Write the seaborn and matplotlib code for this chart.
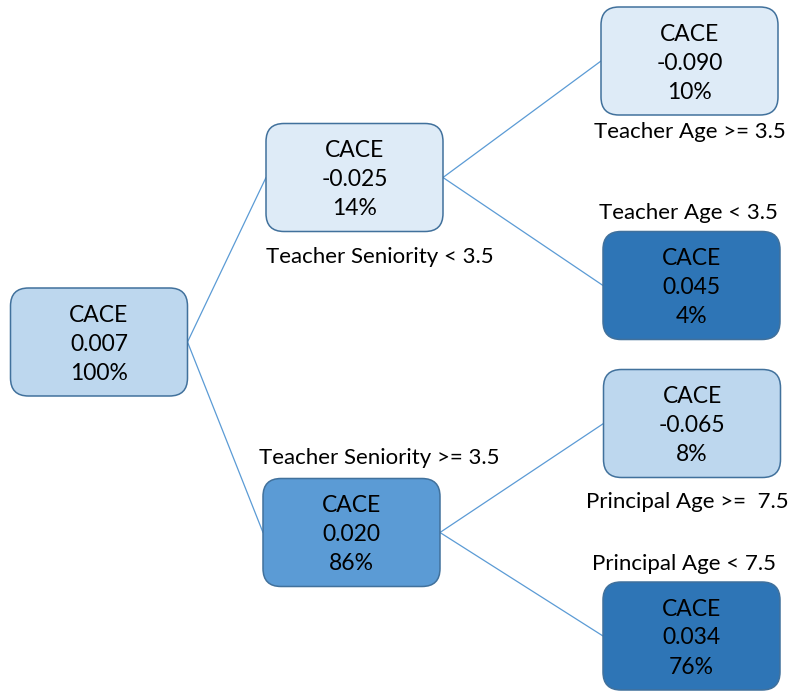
import matplotlib
matplotlib.use("Agg")
import matplotlib.pyplot as plt
from matplotlib.patches import FancyBboxPatch
import seaborn as sns

sns.set_style("white")
plt.rcParams['font.family'] = ['Lato', 'DejaVu Sans']

## Tree data
node_ids = ["root", "sen_lo", "sen_hi", "age_hi", "age_lo", "pa_hi", "pa_lo"]
parents = [None, "root", "root", "sen_lo", "sen_lo", "sen_hi", "sen_hi"]
cace = ["0.007", "-0.025", "0.020", "-0.090", "0.045", "-0.065", "0.034"]
share = ["100%", "14%", "86%", "10%", "4%", "8%", "76%"]
split_labels = [None, "Teacher Seniority < 3.5", "Teacher Seniority >= 3.5",
                "Teacher Age >= 3.5", "Teacher Age < 3.5",
                "Principal Age >=  7.5", "Principal Age < 7.5"]

## Layout (pixels, y down)
centers = {
    "root": (99, 342), "sen_lo": (354.5, 177.5), "sen_hi": (351.5, 532.5),
    "age_hi": (689.5, 61), "age_lo": (691.5, 285.5),
    "pa_hi": (692, 423.5), "pa_lo": (691.5, 636),
}
box_w, box_h = 177, 108
label_pos = {
    "sen_lo": (380, 257), "sen_hi": (379, 458),
    "age_hi": (690, 132), "age_lo": (688, 213),
    "pa_hi": (687, 502), "pa_lo": (684, 564),
}

fills = {"root": "#BDD7EE", "sen_lo": "#DEEBF7", "sen_hi": "#5B9BD5",
         "age_hi": "#DEEBF7", "age_lo": "#2E75B6", "pa_hi": "#BDD7EE",
         "pa_lo": "#2E75B6"}

fig = plt.figure(figsize=(7.9, 6.91), dpi=100)
ax = fig.add_axes([0, 0, 1, 1])
ax.set_xlim(0, 790)
ax.set_ylim(691, 0)
ax.axis("off")

## Edges
for nid, par in zip(node_ids, parents):
    if par is None:
        continue
    px, py = centers[par]
    cx, cy = centers[nid]
    ax.plot([px + box_w / 2, cx - box_w / 2], [py, cy], color="#5B9BD5", lw=0.9, zorder=1)

## Boxes
rad = 18
for nid, val, pct in zip(node_ids, cace, share):
    cx, cy = centers[nid]
    box = FancyBboxPatch((cx - box_w / 2 + rad, cy - box_h / 2 + rad),
                         box_w - 2 * rad, box_h - 2 * rad,
                         boxstyle="round,pad=%d" % rad,
                         facecolor=fills[nid], edgecolor="#41719C", lw=1.1, zorder=2)
    ax.add_patch(box)
    for k, line in enumerate(["CACE", val, pct]):
        ax.text(cx, cy + 2 + (k - 1) * 29, line, ha="center", va="center",
                fontsize=16.5, color="black", zorder=3)

## Split labels
for nid, lab in zip(node_ids, split_labels):
    if lab is None:
        continue
    x, y = label_pos[nid]
    ax.text(x, y, lab, ha="center", va="center", fontsize=16, color="black")

fig.savefig("out.png", dpi=100)
